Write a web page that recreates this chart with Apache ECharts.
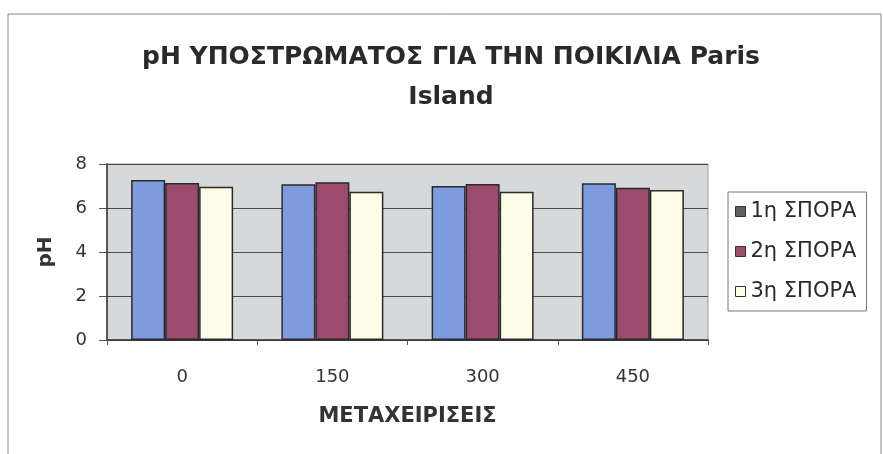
<!DOCTYPE html>
<html>
<head>
<meta charset="utf-8">
<script src="https://cdn.jsdelivr.net/npm/echarts@6/dist/echarts.min.js"></script>
<style>
  html, body { margin: 0; padding: 0; background: #ffffff; }
  #chart { width: 883px; height: 454px; }
</style>
</head>
<body>
<div id="chart"></div>
<script>
// Treatments (x axis) and substrate pH for each sowing
const categories = ['0', '150', '300', '450'];
const seriesNames = ['1η ΣΠΟΡΑ', '2η ΣΠΟΡΑ', '3η ΣΠΟΡΑ'];
const sowing1 = [7.27, 7.08, 7.0, 7.12];
const sowing2 = [7.14, 7.17, 7.09, 6.92];
const sowing3 = [6.97, 6.74, 6.74, 6.82];
const yTicks = [0, 2, 4, 6, 8];

const colors = ['#7e9be0', '#9c4b6f', '#fdfde8'];
const legendSwatch = ['#5e6064', '#9c4b6f', '#fdfde8'];
const font = '"DejaVu Sans", "Liberation Sans", Arial, sans-serif';
const values = [sowing1, sowing2, sowing3];

const chart = echarts.init(document.getElementById('chart'), null, { renderer: 'canvas' });

chart.setOption({
  backgroundColor: '#ffffff',
  animation: false,
  title: {
    text: 'pH ΥΠΟΣΤΡΩΜΑΤΟΣ ΓΙΑ ΤΗΝ ΠΟΙΚΙΛΙΑ Paris\nIsland',
    left: 446,
    textAlign: 'center',
    top: 32,
    textStyle: {
      fontFamily: font,
      fontWeight: 'bold',
      fontSize: 25,
      lineHeight: 40,
      color: '#2a2a2a'
    }
  },
  legend: {
    orient: 'vertical',
    left: 728,
    top: 192,
    itemWidth: 10,
    itemHeight: 10,
    itemGap: 19,
    padding: [9, 10, 9, 7],
    borderColor: '#777777',
    borderWidth: 1,
    textStyle: { fontFamily: font, fontSize: 21, color: '#2a2a2a' },
    data: seriesNames.map((n, i) => ({
      name: n,
      icon: 'rect',
      itemStyle: { color: legendSwatch[i], borderColor: '#333333', borderWidth: 1 }
    }))
  },
  grid: {
    left: 107,
    top: 164,
    width: 601,
    height: 176,
    show: true,
    backgroundColor: '#d6d8da',
    borderColor: '#9a9a9a',
    borderWidth: 1
  },
  xAxis: {
    type: 'category',
    data: categories,
    name: 'ΜΕΤΑΧΕΙΡΙΣΕΙΣ',
    nameLocation: 'middle',
    nameGap: 66,
    nameTextStyle: { fontFamily: font, fontWeight: 'bold', fontSize: 21, color: '#333333' },
    axisLine: { lineStyle: { color: '#333333', width: 1.5 } },
    axisTick: { show: true, length: 5, lineStyle: { color: '#555555' } },
    axisLabel: { fontFamily: font, fontSize: 18, color: '#333333', margin: 28 },
    splitLine: { show: false }
  },
  yAxis: {
    type: 'value',
    min: 0,
    max: 8,
    interval: 2,
    name: 'pH',
    nameLocation: 'middle',
    nameGap: 51,
    nameRotate: 90,
    nameTextStyle: { fontFamily: font, fontWeight: 'bold', fontSize: 20, color: '#333333' },
    axisLine: { show: true, lineStyle: { color: '#333333', width: 1.5 } },
    axisTick: { show: true, length: 8, lineStyle: { color: '#555555' } },
    axisLabel: {
      fontFamily: font, fontSize: 18, color: '#333333', margin: 20,
      formatter: v => (yTicks.includes(v) ? String(v) : '')
    },
    splitLine: { show: true, lineStyle: { color: '#4a4a4a', width: 1.2 } }
  },
  series: seriesNames.map((n, i) => ({
    name: n,
    type: 'bar',
    data: values[i],
    barWidth: 34,
    barGap: '0%',
    itemStyle: { color: colors[i], borderColor: '#2a2a2a', borderWidth: 1.5 }
  })),
  graphic: [
    {
      type: 'rect',
      shape: { x: 8, y: 14, width: 873, height: 450 },
      style: { fill: 'none', stroke: '#8a8a8a', lineWidth: 1 },
      silent: true,
      z: -1
    }
  ]
});
</script>
</body>
</html>
